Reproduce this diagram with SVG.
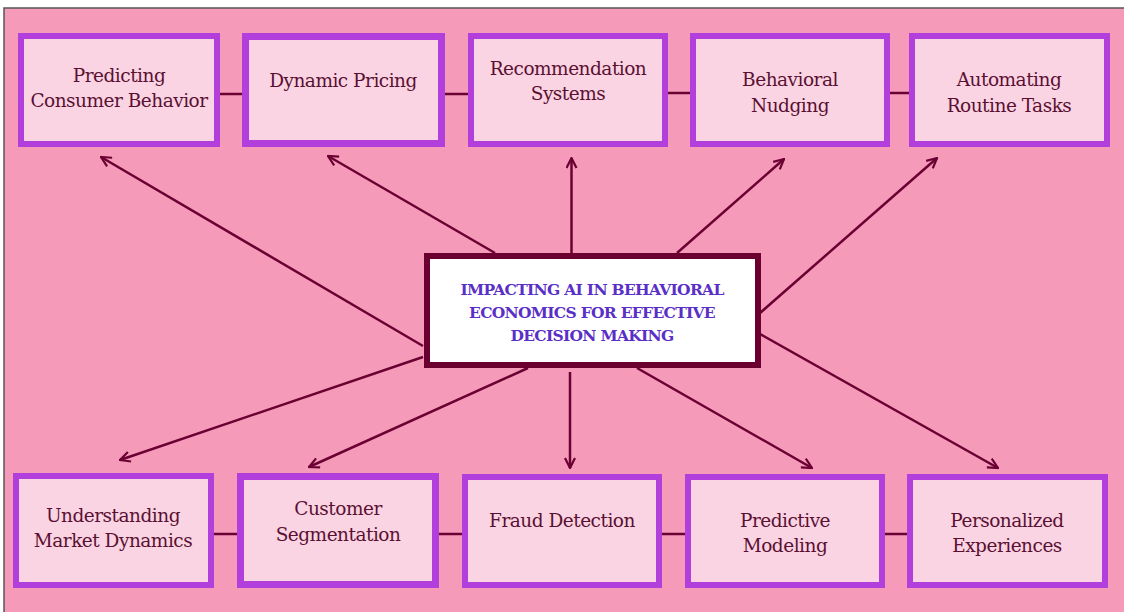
<svg xmlns="http://www.w3.org/2000/svg" width="1124" height="612" viewBox="0 0 1124 612">
<style>
.node rect{fill:#fbd4e3;stroke:#b23fdc;stroke-width:6}
.node.thick rect{stroke-width:7}
.node text{font-family:"DejaVu Serif","Liberation Serif",serif;font-size:18.5px;letter-spacing:-0.5px;fill:#5a1032;text-anchor:middle}
.link{stroke:#6b0033;stroke-width:2.5;fill:none}
.arrow{stroke:#6b0033;stroke-width:2.5;fill:none;marker-end:url(#ah)}
.title{font-family:"DejaVu Serif","Liberation Serif",serif;font-size:15.5px;letter-spacing:-0.7px;font-weight:bold;fill:#5a2fc8;text-anchor:middle}
</style>
<defs>
<marker id="ah" viewBox="0 0 12 12" refX="11" refY="6" markerWidth="12" markerHeight="12" markerUnits="userSpaceOnUse" orient="auto">
<path d="M1,1 L11,6 L1,11" fill="none" stroke="#6b0033" stroke-width="2.2"/>
</marker>
</defs>
<rect x="0" y="0" width="1124" height="612" fill="#ffffff"/>
<rect x="4" y="8" width="1130" height="610" fill="#f59bb9" stroke="#555555" stroke-width="1.5"/>
<g id="connectors">
<line class="link" x1="220" y1="94" x2="242" y2="94"/>
<line class="link" x1="445" y1="94" x2="468" y2="94"/>
<line class="link" x1="668" y1="93" x2="690" y2="93"/>
<line class="link" x1="890" y1="93" x2="909" y2="93"/>
<line class="link" x1="214" y1="534" x2="237" y2="534"/>
<line class="link" x1="439" y1="534" x2="462" y2="534"/>
<line class="link" x1="662" y1="534" x2="685" y2="534"/>
<line class="link" x1="885" y1="534" x2="907" y2="534"/>
<line class="arrow" x1="423" y1="346" x2="101" y2="157"/>
<line class="arrow" x1="495" y1="253" x2="328" y2="156"/>
<line class="arrow" x1="571.5" y1="253" x2="571.5" y2="158"/>
<line class="arrow" x1="677" y1="253" x2="784" y2="159"/>
<line class="arrow" x1="760" y1="313" x2="937" y2="158"/>
<line class="arrow" x1="423" y1="357" x2="120" y2="460"/>
<line class="arrow" x1="528" y1="368" x2="309" y2="467"/>
<line class="arrow" x1="570" y1="372" x2="570" y2="468"/>
<line class="arrow" x1="637" y1="368" x2="812" y2="468"/>
<line class="arrow" x1="760" y1="334" x2="998" y2="468"/>
</g>
<g id="center">
<rect x="427" y="256" width="331" height="109" fill="#ffffff" stroke="#6b0030" stroke-width="6"/>
<text class="title" x="592" y="295">IMPACTING AI IN BEHAVIORAL</text>
<text class="title" x="592" y="318">ECONOMICS FOR EFFECTIVE</text>
<text class="title" x="592" y="341">DECISION MAKING</text>
</g>
<g id="n1" class="node"><rect x="21" y="36" width="196" height="108"/><text x="119" y="82">Predicting</text><text x="119" y="107">Consumer Behavior</text></g>
<g id="n2" class="node thick"><rect x="245.5" y="36.5" width="196" height="107"/><text x="343" y="87">Dynamic Pricing</text></g>
<g id="n3" class="node"><rect x="471" y="36" width="194" height="108"/><text x="568" y="75">Recommendation</text><text x="568" y="100">Systems</text></g>
<g id="n4" class="node"><rect x="693" y="36" width="194" height="108"/><text x="790" y="86">Behavioral</text><text x="790" y="112">Nudging</text></g>
<g id="n5" class="node"><rect x="912" y="36" width="195" height="108"/><text x="1009" y="86">Automating</text><text x="1009" y="112">Routine Tasks</text></g>
<g id="n6" class="node"><rect x="16" y="476" width="195" height="109"/><text x="113" y="522">Understanding</text><text x="113" y="547">Market Dynamics</text></g>
<g id="n7" class="node thick"><rect x="240.5" y="476.5" width="195" height="108"/><text x="338" y="515">Customer</text><text x="338" y="541">Segmentation</text></g>
<g id="n8" class="node"><rect x="465" y="477" width="194" height="108"/><text x="562" y="527">Fraud Detection</text></g>
<g id="n9" class="node"><rect x="688" y="477" width="194" height="108"/><text x="785" y="527">Predictive</text><text x="785" y="552">Modeling</text></g>
<g id="n10" class="node"><rect x="910" y="477" width="195" height="108"/><text x="1007" y="527">Personalized</text><text x="1007" y="552">Experiences</text></g>
</svg>
